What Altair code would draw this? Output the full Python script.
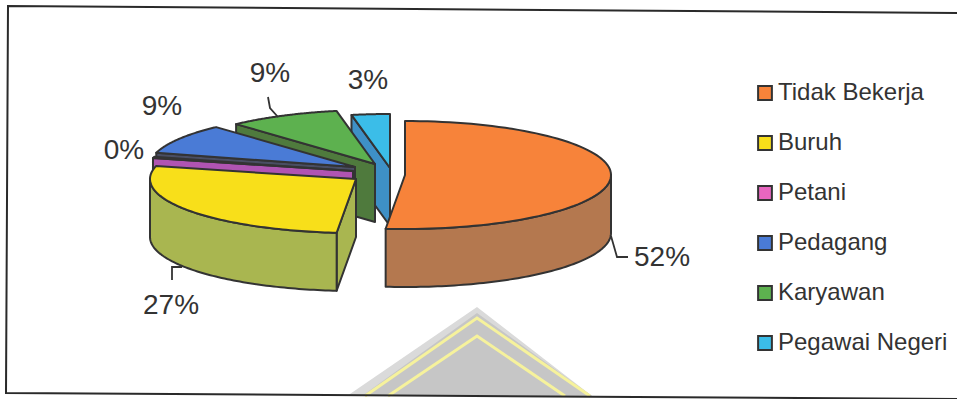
import numpy as np
import altair as alt

W, H = 957, 399

# Occupation shares of respondents, in percent
categories = ["Tidak Bekerja", "Buruh", "Petani", "Pedagang", "Karyawan", "Pegawai Negeri"]
shares = [51.6, 27.4, 0.4, 9, 8.8, 3]

top_colors = ["#F7833A", "#F8DF1A", "#E866C0", "#4A7BD6", "#5DB14F", "#3BBDE8"]
wall_colors = ["#B4784F", "#A9B650", "#B054B2", "#4A4E63", "#4F7A3D", "#3E90C6"]

# Projected pie geometry, all in pixels
RX, RY, DEPTH = 206, 54, 58
centers = [(405, 175), (356, 179), (353, 171), (355, 167), (375, 164), (390, 168)]
label_pos = [(662, 258), (171, 306), (124, 151), (162, 107), (270, 74), (368, 81)]
leaders = [
    [(611, 236), (617, 257), (628, 257)],
    [(182, 267), (172, 267), (172, 280)],
    [(278, 117), (270, 108), (268, 97)],
]

INK = "#333333"


def rim(c, deg):
    t = np.radians(deg)
    return [float(c[0] + RX * np.sin(t)), float(c[1] - RY * np.cos(t))]


def down(pts):
    return [[p[0], p[1] + DEPTH] for p in pts]


def polygon(pts, **props):
    ring = [list(p) for p in pts]
    ring.append(ring[0])
    return {"type": "Feature", "geometry": {"type": "Polygon", "coordinates": [ring]}, "properties": props}


def path(pts, **props):
    return {"type": "Feature", "geometry": {"type": "LineString", "coordinates": [list(p) for p in pts]},
            "properties": props}


# Turn the shares into sweep angles, clockwise from twelve o'clock
sweep = np.array(shares) / sum(shares) * 360
ends = np.cumsum(sweep)
starts = ends - sweep

walls, tops = [], []
# Walls are painted back to front, so later slices cover earlier ones
for i in reversed(range(len(categories))):
    c, s, e = centers[i], float(starts[i]), float(ends[i])
    apex = [float(c[0]), float(c[1])]
    if np.cos(np.radians(s - 90)) < 0:  # cut face turned towards the viewer
        a = rim(c, s)
        walls.append(polygon([apex, a, [a[0], a[1] + DEPTH], [apex[0], apex[1] + DEPTH]], color=wall_colors[i]))
    lo, hi = max(s, 90.0), min(e, 270.0)
    if hi > lo:  # curved outer wall along the front half of the rim
        arc = [rim(c, d) for d in np.linspace(lo, hi, 80)]
        walls.append(polygon(arc + down(arc)[::-1], color=wall_colors[i]))
for i in range(len(categories)):
    c = centers[i]
    arc = [rim(c, d) for d in np.linspace(starts[i], ends[i], 90)]
    tops.append(polygon([[float(c[0]), float(c[1])]] + arc, name=categories[i]))

# Archive stamp showing through at the bottom edge
stamp_fill = [
    polygon([(477, 307), (347, 396), (592, 396)], color="#DADADA"),
    polygon([(477, 313), (362, 396), (592, 396)], color="#C6C6C6"),
]
stamp_lines = [
    path([(365, 396), (477, 318), (590, 396)]),
    path([(388, 396), (477, 336), (565, 396)]),
]

# Scanned frame: slightly skewed, open on the right-hand side
frame = [path([(957, 13), (8, 6), (6, 393), (957, 399)])]
leader_features = [path(p) for p in leaders]

projection = dict(type="identity", scale=1, translate=[0, 0])

stamp_layer = alt.Chart(alt.Data(values=stamp_fill)).mark_geoshape(strokeWidth=0).encode(
    fill=alt.Fill("properties.color:N", scale=None)
).project(**projection)
stamp_line_layer = alt.Chart(alt.Data(values=stamp_lines)).mark_geoshape(
    filled=False, stroke="#F6F29C", strokeWidth=3
).project(**projection)
frame_layer = alt.Chart(alt.Data(values=frame)).mark_geoshape(
    filled=False, stroke="#2A2A2A", strokeWidth=2
).project(**projection)

wall_layer = alt.Chart(alt.Data(values=walls)).mark_geoshape(
    stroke=INK, strokeWidth=2, strokeJoin="round"
).encode(fill=alt.Fill("properties.color:N", scale=None)).project(**projection)

top_layer = alt.Chart(alt.Data(values=tops)).mark_geoshape(
    stroke=INK, strokeWidth=2, strokeJoin="round"
).encode(
    fill=alt.Fill(
        "properties.name:N",
        scale=alt.Scale(domain=categories, range=top_colors),
        legend=alt.Legend(
            title=None,
            orient="none",
            legendX=753,
            legendY=81,
            symbolType="square",
            symbolSize=190,
            symbolStrokeColor=INK,
            symbolStrokeWidth=2,
            labelFont="Liberation Sans",
            labelFontSize=24,
            labelColor=INK,
            labelOffset=1,
            labelLimit=220,
            rowPadding=26,
        ),
    )
).project(**projection)

leader_layer = alt.Chart(alt.Data(values=leader_features)).mark_geoshape(
    filled=False, stroke=INK, strokeWidth=1.8
).project(**projection)

label_rows = [
    {"label": f"{round(v)}%", "px": p[0], "py": p[1]} for v, p in zip(shares, label_pos)
]
text_layer = alt.Chart(alt.Data(values=label_rows)).mark_text(
    font="Liberation Sans", fontSize=28, color=INK, align="center", baseline="middle"
).encode(
    x=alt.X("px:Q", scale=alt.Scale(domain=[0, W]), axis=None),
    y=alt.Y("py:Q", scale=alt.Scale(domain=[0, H], range=[0, H]), axis=None),
    text="label:N",
)

chart = alt.layer(
    stamp_layer, stamp_line_layer, frame_layer, wall_layer, top_layer, leader_layer, text_layer
).properties(
    width=W, height=H, padding=0, autosize=alt.AutoSizeParams(type="none"), background="white"
).configure_view(stroke=None)

chart.save("out.html", embed_options={"renderer": "svg", "actions": False})
